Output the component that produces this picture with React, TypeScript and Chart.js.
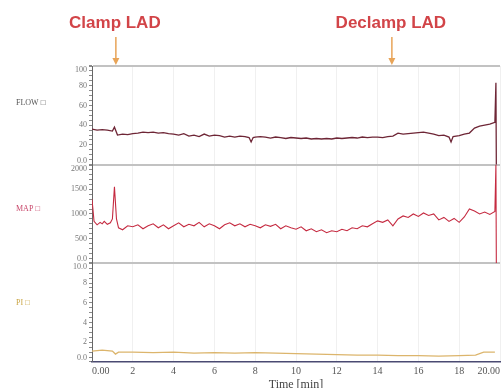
import React, { useEffect, useRef } from 'react';
import { Chart, registerables } from 'chart.js';

Chart.register(...registerables);

// ---- data ----
const flowT = [0, 0.25, 0.5, 0.75, 1.0, 1.1, 1.25, 1.5, 1.75, 2, 2.25, 2.5, 2.75, 3, 3.25, 3.5, 3.75, 4, 4.25, 4.5, 4.75, 5, 5.25, 5.5, 5.75, 6, 6.25, 6.5, 6.75, 7, 7.25, 7.5, 7.7, 7.8, 7.9, 8, 8.25, 8.5, 8.75, 9, 9.25, 9.5, 9.75, 10, 10.25, 10.5, 10.75, 11, 11.25, 11.5, 11.75, 12, 12.25, 12.5, 12.75, 13, 13.25, 13.5, 13.75, 14, 14.25, 14.5, 14.75, 15, 15.25, 15.5, 15.75, 16, 16.25, 16.5, 16.75, 17, 17.25, 17.5, 17.6, 17.7, 18, 18.25, 18.5, 18.75, 19, 19.25, 19.5, 19.75, 19.8, 19.82];
const flowV = [36, 35, 35.5, 35, 34, 38, 30, 31, 30.5, 31.5, 32, 33, 32.5, 33, 32, 32.5, 31.5, 31, 30, 31.5, 29, 30, 28.5, 31, 29, 30, 29.5, 28, 29, 28, 29, 28.5, 27.5, 23, 27.5, 28, 28.5, 28, 27, 28, 27.5, 26.5, 27.5, 27, 26.5, 27, 26, 26.5, 26, 26.5, 26, 27, 26.5, 27, 27.5, 27, 28, 27.5, 28, 28, 27.5, 28.5, 29, 32, 31, 31.5, 32, 32.5, 33, 32, 31, 29.5, 30, 28, 23, 28.5, 29.5, 31, 32, 37, 39, 40, 41, 43, 83, 0];

const mapT = [0, 0.1, 0.25, 0.4, 0.5, 0.6, 0.75, 0.9, 1.0, 1.1, 1.2, 1.3, 1.5, 1.75, 2, 2.25, 2.5, 2.75, 3, 3.25, 3.5, 3.75, 4, 4.25, 4.5, 4.75, 5, 5.25, 5.5, 5.75, 6, 6.25, 6.5, 6.75, 7, 7.25, 7.5, 7.75, 8, 8.25, 8.5, 8.75, 9, 9.25, 9.5, 9.75, 10, 10.25, 10.5, 10.75, 11, 11.25, 11.5, 11.75, 12, 12.25, 12.5, 12.75, 13, 13.25, 13.5, 13.75, 14, 14.25, 14.5, 14.75, 15, 15.25, 15.5, 15.75, 16, 16.25, 16.5, 16.75, 17, 17.25, 17.5, 17.75, 18, 18.25, 18.5, 18.75, 19, 19.25, 19.5, 19.75, 19.8, 19.82];
const mapV = [1300, 850, 780, 830, 800, 850, 790, 820, 900, 1550, 900, 720, 680, 760, 740, 780, 700, 760, 800, 720, 780, 700, 760, 820, 740, 790, 760, 830, 740, 800, 760, 700, 780, 820, 760, 800, 740, 790, 760, 720, 780, 750, 790, 700, 760, 720, 690, 740, 660, 700, 640, 680, 620, 660, 640, 690, 660, 720, 700, 760, 740, 800, 860, 830, 880, 760, 900, 960, 930, 1000, 950, 1020, 970, 1000, 880, 930, 850, 910, 830, 940, 1100, 1060, 1000, 1040, 990, 1050, 2000, 0];

const piT = [0, 0.5, 1.0, 1.15, 1.3, 2, 3, 4, 5, 6, 7, 8, 9, 10, 11, 12, 13, 14, 15, 16, 17, 18, 18.8, 19.2, 19.75];
const piV = [1.1, 1.2, 1.1, 0.8, 1.0, 1.0, 0.95, 1.0, 0.9, 0.95, 0.9, 0.95, 0.9, 0.85, 0.8, 0.75, 0.7, 0.7, 0.65, 0.65, 0.6, 0.65, 0.7, 1.0, 1.0];

const flowTickValues = [0, 20, 40, 60, 80, 100];
const flowTickLabels = ['0.0', '20', '40', '60', '80', '100'];
const mapTickValues = [0, 500, 1000, 1500, 2000];
const mapTickLabels = ['0.0', '500', '1000', '1500', '2000'];
const piTickValues = [0, 2, 4, 6, 8, 10];
const piTickLabels = ['0.0', '2', '4', '6', '8', '10.0'];

const panelNames = ['FLOW □', 'MAP □', 'PI □'];
const eventTimes = [1.17, 14.7];
const eventLabels = ['Clamp LAD', 'Declamp LAD'];
const xAxisTitle = 'Time [min]';

const toPts = (t: number[], v: number[]) => t.map((x, i) => ({ x, y: v[i] }));

function yScale(min: number, max: number, step: number) {
  return {
    type: 'linear',
    position: 'left',
    stack: 'panels',
    stackWeight: 1,
    min,
    max,
    ticks: { display: false, stepSize: step, autoSkip: false },
    grid: {
      color: (c: any) => (c.tick && c.tick.value === max ? '#c2c2c2' : 'rgba(0,0,0,0)'),
      lineWidth: (c: any) => (c.tick && c.tick.value === max ? 2 : 1),
      tickColor: '#8a8a8a',
      tickLength: 3,
      drawTicks: true,
    },
    border: { display: true, color: '#666', width: 1 },
    afterFit: (s: any) => {
      s.width = 92;
    },
  };
}

const overlayPlugin = {
  id: 'overlay',
  afterDraw(chart: any) {
    const ctx = chart.ctx;
    const xs = chart.scales.x;
    ctx.save();
    const sets: [string, number[], string[], string, number, string][] = [
      ['yFLOW', flowTickValues, flowTickLabels, panelNames[0], 63, '#555'],
      ['yMAP', mapTickValues, mapTickLabels, panelNames[1], 1100, '#c8466a'],
      ['yPI', piTickValues, piTickLabels, panelNames[2], 6, '#c9a443'],
    ];
    for (const [id, vals, labels, name, nameVal, nameColor] of sets) {
      const s = chart.scales[id];
      ctx.font = '8px "Liberation Serif"';
      ctx.fillStyle = '#777';
      ctx.textAlign = 'right';
      vals.forEach((v, i) => {
        const y = s.getPixelForValue(v);
        ctx.textBaseline = v === s.max ? 'top' : v === s.min ? 'bottom' : 'middle';
        ctx.fillText(labels[i], s.right - 5, y);
      });
      ctx.font = '8px "Liberation Serif"';
      ctx.fillStyle = nameColor;
      ctx.textAlign = 'left';
      ctx.textBaseline = 'middle';
      ctx.fillText(name, 16, s.getPixelForValue(nameVal));
    }
    // event annotations
    eventTimes.forEach((t, i) => {
      const x = xs.getPixelForValue(t);
      ctx.font = 'bold 17px "Liberation Sans", Arial, sans-serif';
      ctx.fillStyle = '#d24448';
      ctx.textAlign = 'center';
      ctx.textBaseline = 'middle';
      ctx.fillText(eventLabels[i], x - 1, 23);
      ctx.strokeStyle = '#e8a458';
      ctx.fillStyle = '#e8a458';
      ctx.lineWidth = 1.5;
      ctx.beginPath();
      ctx.moveTo(x, 37);
      ctx.lineTo(x, 60);
      ctx.stroke();
      ctx.beginPath();
      ctx.moveTo(x - 3.5, 58);
      ctx.lineTo(x + 3.5, 58);
      ctx.lineTo(x, 65);
      ctx.closePath();
      ctx.fill();
    });
    ctx.restore();
  },
};

export default function App() {
  const ref = useRef<HTMLCanvasElement>(null);
  useEffect(() => {
    const chart = new Chart(ref.current as HTMLCanvasElement, {
      type: 'line',
      data: {
        datasets: [
          {
            label: 'PI',
            data: toPts(piT, piV),
            yAxisID: 'yPI',
            borderColor: '#dcb56c',
            borderWidth: 1.3,
            pointRadius: 0,
            tension: 0,
          },
          {
            label: 'MAP',
            data: toPts(mapT, mapV),
            yAxisID: 'yMAP',
            borderColor: '#c52a40',
            borderWidth: 1.1,
            pointRadius: 0,
            tension: 0,
          },
          {
            label: 'FLOW',
            data: toPts(flowT, flowV),
            yAxisID: 'yFLOW',
            borderColor: '#6e2636',
            borderWidth: 1.3,
            pointRadius: 0,
            tension: 0,
          },
        ],
      } as any,
      options: {
        animation: false,
        responsive: true,
        maintainAspectRatio: false,
        parsing: true,
        layout: { padding: { top: 66, left: 0, right: 0, bottom: -1 } },
        plugins: { legend: { display: false }, tooltip: { enabled: false } },
        scales: {
          x: {
            type: 'linear',
            min: 0,
            max: 20,
            ticks: {
              stepSize: 2,
              align: 'inner',
              padding: 4,
              color: '#555',
              font: { family: '"Liberation Serif", serif', size: 10, lineHeight: 1 },
              callback: (v: any) => (v === 0 ? '0.00' : v === 20 ? '20.00' : String(v)),
              maxRotation: 0,
            },
            grid: { color: '#f0f0f0', drawTicks: false },
            border: { display: true, color: '#4a4a72', width: 1.5 },
            title: {
              display: true,
              text: xAxisTitle,
              color: '#444',
              padding: { top: 1, bottom: 0 },
              font: { family: '"Liberation Serif", serif', size: 12, lineHeight: 0.67 },
            },
          },
          yPI: yScale(0, 10, 0.5),
          yMAP: yScale(0, 2000, 100),
          yFLOW: yScale(0, 100, 5),
        } as any,
      },
      plugins: [overlayPlugin],
    } as any);
    return () => chart.destroy();
  }, []);
  return (
    <div style={{ position: 'absolute', left: 0, top: 0, width: 504, height: 388, background: '#fff' }}>
      <canvas ref={ref} />
    </div>
  );
}
